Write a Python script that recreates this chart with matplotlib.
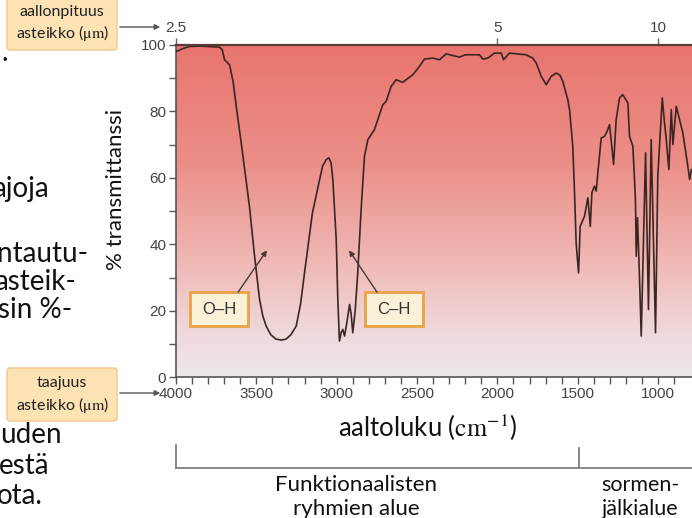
import numpy as np
import matplotlib
matplotlib.use("Agg")
import matplotlib.pyplot as plt
import matplotlib.transforms as mtransforms
from matplotlib.colors import LinearSegmentedColormap
from matplotlib.patches import Rectangle, FancyBboxPatch, FancyArrowPatch
from matplotlib.lines import Line2D

plt.rcParams["mathtext.fontset"] = "stix"

# --- data ---
wavenumber = [3997, 3960, 3916, 3850, 3760, 3729, 3712, 3698, 3667, 3645,
              3625, 3586, 3543, 3511, 3480, 3460, 3439, 3410, 3378, 3345,
              3315, 3285, 3252, 3225, 3200, 3151, 3088, 3065, 3049, 3035,
              3024, 3003, 2993, 2983, 2972, 2962, 2951, 2935, 2920, 2910,
              2900, 2885, 2869, 2847, 2827, 2806, 2785, 2765, 2744, 2713,
              2692, 2661, 2630, 2589, 2560, 2526, 2485, 2454, 2402, 2360,
              2319, 2280, 2236, 2200, 2174, 2111, 2091, 2060, 2018, 1976,
              1962, 1925, 1883, 1821, 1780, 1758, 1727, 1696, 1665, 1634,
              1610, 1593, 1562, 1551, 1531, 1520, 1510, 1495, 1485, 1458,
              1437, 1422, 1412, 1396, 1385, 1375, 1354, 1333, 1317, 1302,
              1277, 1261, 1240, 1220, 1188, 1178, 1157, 1141, 1136, 1128,
              1116, 1105, 1078, 1060, 1043, 1016, 1002, 974, 960, 949,
              933, 918, 908, 887, 846, 815, 804, 792]
transmittance = [98, 98.8, 99.5, 99.6, 99.4, 99.3, 98.5, 95.5, 94, 89,
                 81.5, 67.5, 51.4, 36.4, 23.4, 18.5, 15.4, 12.8, 11.5, 11.2,
                 11.5, 12.8, 15.4, 22, 31.5, 49.5, 63.5, 65.5, 66, 64.5,
                 59.5, 41.4, 23.4, 10.9, 13.5, 14.4, 12.4, 17, 21.9, 19,
                 13.4, 20, 31.4, 51.4, 66.5, 71.5, 73, 74.5, 77.5, 82,
                 83, 87.5, 89.5, 88.7, 89.8, 91, 93.5, 95.7, 96, 95.5,
                 97.3, 96.8, 96.3, 97, 97, 97, 95.7, 96, 97.5, 97.5,
                 95.5, 97.5, 97.3, 97, 96, 94.5, 90.5, 88, 90.5, 91.5,
                 90.8, 89, 83.5, 80.5, 69.5, 55.5, 40.4, 31.4, 45.4, 48.4,
                 54, 45.4, 55.5, 57.5, 56, 61.5, 72, 72.5, 74, 76,
                 64, 77.5, 84, 85, 82.5, 72.5, 69.5, 53.5, 36.4, 48,
                 30.4, 12.4, 67.5, 20.4, 71.5, 13.4, 60.5, 84, 76.5, 71.5,
                 62.5, 80.5, 70, 81.5, 73.5, 63.5, 59.5, 62.5]

wn_ticks = [4000, 3500, 3000, 2500, 2000, 1500, 1000]
t_ticks = [0, 20, 40, 60, 80, 100]
wl_ticks = [2.5, 5, 10]
wl_labels = ["2.5", "5", "10"]

left_lines = [".", "ajoja", "ntautu-", "asteik-", "ssin %-", "uden", "estä", "ota."]

W, H, DPI = 692, 518, 100
fig = plt.figure(figsize=(W / DPI, H / DPI), dpi=DPI)
# pixel coords, origin at top-left
pxt = (mtransforms.Affine2D().scale(1, -1).translate(0, H)
       + mtransforms.Affine2D().scale(1 / DPI) + fig.dpi_scale_trans)

x0, x1 = 176, 692
y_top, y_bot = 44.8, 377.3
ax = fig.add_axes([x0 / W, (H - y_bot) / H, (x1 - x0) / W, (y_bot - y_top) / H])
xlim = (4000, 4000 - (x1 - x0) / 0.1607)
ax.set_xlim(xlim)
ax.set_ylim(0, 100)

# background gradient
cmap = LinearSegmentedColormap.from_list("bg", [(0, "#e8756e"), (0.35, "#ec8e88"),
                                                (0.6, "#efb0ac"), (0.82, "#f0d2d3"),
                                                (1, "#ede8ee")])
grad = np.linspace(0, 1, 256).reshape(-1, 1)
ax.imshow(grad, extent=[xlim[0], xlim[1], 0, 100], aspect="auto", cmap=cmap,
          origin="upper", zorder=0)

ax.plot(wavenumber, transmittance, color="#3b2622", lw=1.2, zorder=3)

tick_font = dict(family="Liberation Sans", size=11, color="#444444")
ax.set_xticks(wn_ticks)
ax.set_xticklabels([str(v) for v in wn_ticks], fontdict=tick_font)
ax.set_xticks(np.arange(900, 4001, 100), minor=True)
ax.set_yticks(t_ticks)
ax.set_yticklabels([str(v) for v in t_ticks], fontdict=tick_font)
ax.set_yticks(np.arange(0, 101, 10), minor=True)
ax.tick_params(which="both", direction="out", length=5, width=1, color="#555555", pad=2)
ax.spines["right"].set_visible(False)
ax.spines["top"].set_visible(False)
for s in ["left", "bottom"]:
    ax.spines[s].set_color("#555555")
    ax.spines[s].set_linewidth(1.2)

# wavelength scale on top
ax2 = ax.twiny()
ax2.set_xlim(xlim)
ax2.set_xticks([1e4 / w for w in wl_ticks])
ax2.set_xticklabels(wl_labels, fontdict=tick_font)
ax2.tick_params(direction="out", length=5, width=1, color="#666666", pad=2)
for s in ["left", "right", "bottom"]:
    ax2.spines[s].set_visible(False)
ax2.spines["top"].set_color("#5b3b36")
ax2.spines["top"].set_linewidth(1.6)

# O-H and C-H labels
for txt, (wa, wb), (xa, ya) in [("O\u2013H", (3913, 3552), (3614, 3434)),
                                ("C\u2013H", (2824, 2463), (2749, 2923))]:
    ax.add_patch(Rectangle((wa, 15.4), wb - wa, 10.2, fc="#fbf1d8", ec="#e9a244",
                           lw=2, zorder=4))
    ax.text((wa + wb) / 2, 20.5, txt, ha="center", va="center", zorder=5,
            family="Liberation Sans", size=12, color="#333333")
    ax.annotate("", xy=(ya, 38.2), xytext=(xa, 25.6), zorder=5,
                arrowprops=dict(arrowstyle="-|>", color="#4a3a36", lw=1,
                                mutation_scale=8, shrinkA=0, shrinkB=0))

fig.text(116, 189, "% transmittanssi", transform=pxt, rotation=90, ha="center",
         va="center", family="Lato", size=16, color="#111111")
fig.text(428, 428, r"aaltoluku ($\mathrm{cm}^{-1}$)", transform=pxt, ha="center",
         va="center", family="Lato", size=18.5, color="#111111")

# scale boxes with arrows
for (bx, by, bw, bh), lines, ay, tx in [((7, -4, 110, 54), "aallonpituus\nasteikko ($\\mathrm{\\mu m}$)", 27, 163),
                                        ((7, 368, 110, 53), "taajuus\nasteikko ($\\mathrm{\\mu m}$)", 393, 163)]:
    fig.patches.append(FancyBboxPatch((bx, by), bw, bh, boxstyle="round,pad=0,rounding_size=3",
                                      fc="#fde3b4", ec="#f2c88c", lw=1, transform=pxt))
    fig.text(bx + bw / 2, by + bh / 2 + 1, lines, transform=pxt, ha="center", va="center",
             family="Lato", size=11.5, color="#222222", linespacing=1.3)
    fig.add_artist(FancyArrowPatch((bx + bw, ay), (tx, ay), transform=pxt,
                                   arrowstyle="-|>", mutation_scale=8,
                                   color="#555555", lw=1))

# region bracket
by = 468
fig.add_artist(Line2D([176, 692], [by, by], transform=pxt, color="#808080", lw=1.3))
fig.add_artist(Line2D([176, 176], [445, by], transform=pxt, color="#808080", lw=1.3))
fig.add_artist(Line2D([579, 579], [448, by], transform=pxt, color="#808080", lw=1.3))
fig.text(356, 497, "Funktionaalisten\nryhmien alue", transform=pxt, ha="center", va="center",
         family="Lato", size=16, color="#111111", linespacing=1.3)
fig.text(640, 497, "sormen-\njälkialue", transform=pxt, ha="center", va="center",
         family="Lato", size=15.5, color="#111111", linespacing=1.3)

# cut-off slide text on the left edge
left_right = [8, 49, 88, 76, 72, 62, 49, 43]
left_base = [61, 197, 262, 290, 318, 443, 474, 504]
for s, xr, yb in zip(left_lines, left_right, left_base):
    fig.text(xr, yb, s, transform=pxt, ha="right", va="baseline", family="Lato",
             size=20, color="#111111")

fig.savefig("out.png", dpi=DPI)
